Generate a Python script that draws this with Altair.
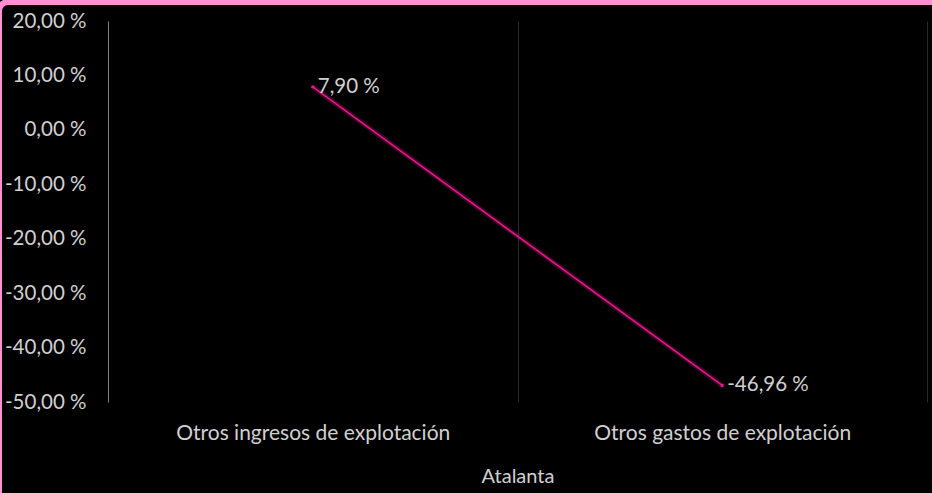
import altair as alt
import pandas as pd

# Values of the series (percent)
categories = ["Otros ingresos de explotación", "Otros gastos de explotación"]
values = [7.90, -46.96]
y_ticks = [-50, -40, -30, -20, -10, 0, 10, 20]
x_title = "Atalanta"


def pct_label(v):
    return f"{v:.2f}".replace(".", ",") + " %"


df = pd.DataFrame({
    "categoria": categories,
    "valor": values,
    "etiqueta": [pct_label(v) for v in values],
})

W, H = 819, 381
FONT = "Lato"
FS = 21
TEXT = "#d0d0d0"
LINE = "#e8168a"
BORDER = "#ff8fd2"

y_label_expr = (
    "(datum.value < 0 ? '-' : '') + "
    "replace(format(abs(datum.value), '.2f'), '.', ',') + ' %'"
)

x_enc = alt.X(
    "categoria:N",
    sort=categories,
    scale=alt.Scale(type="band", paddingInner=0, paddingOuter=0),
    axis=alt.Axis(
        title=x_title,
        labelAngle=0,
        labelFont=FONT,
        labelFontSize=FS,
        labelColor=TEXT,
        labelPadding=20,
        labelLimit=0,
        titleFont=FONT,
        titleFontSize=20,
        titleFontWeight="normal",
        titleColor=TEXT,
        titlePadding=23,
        domain=False,
        ticks=False,
        grid=True,
        tickBand="extent",
        gridColor="#2a2a2a",
        gridWidth=1,
    ),
)

y_enc = alt.Y(
    "valor:Q",
    scale=alt.Scale(domain=[-50, 20], nice=False, zero=False),
    axis=alt.Axis(
        values=y_ticks,
        labelExpr=y_label_expr,
        title=None,
        labelFont=FONT,
        labelFontSize=20.5,
        labelColor=TEXT,
        labelPadding=22,
        ticks=False,
        grid=False,
        domain=True,
        domainColor="#808080",
        domainWidth=1,
    ),
)

base = alt.Chart(df).encode(x=x_enc, y=y_enc)

glow = base.mark_line(color=LINE, strokeWidth=5, opacity=0.25)
line = base.mark_line(color=LINE, strokeWidth=1.6)
dots = base.mark_point(color=LINE, filled=True, size=12, opacity=1)
labels = base.mark_text(
    align="left", baseline="middle", dx=5, font=FONT, fontSize=20.5, color=TEXT
).encode(text="etiqueta:N")

# Rounded pink frame around the whole chart
frame = alt.Chart(alt.Data(values=[{}])).mark_rect(
    fill="transparent", stroke=BORDER, strokeWidth=6, cornerRadius=9
).encode(
    x=alt.value(-109),
    x2=alt.value(W + 40),
    y=alt.value(-19),
    y2=alt.value(H + 140),
)

chart = alt.layer(glow, line, dots, labels, frame).properties(
    width=W,
    height=H,
    padding={"left": 108, "top": 21, "right": 5, "bottom": 91},
    autosize=alt.AutoSizeParams(type="none"),
).configure(
    background="black",
).configure_view(
    stroke=None,
)

chart.save("out.html", embed_options={"renderer": "svg", "actions": False})
